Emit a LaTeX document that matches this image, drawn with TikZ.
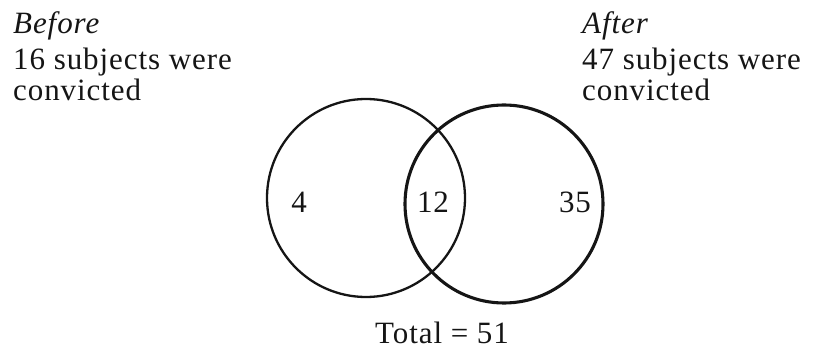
\documentclass[tikz,border=0pt]{standalone}
\usepackage{fontspec}
\setmainfont{Liberation Serif}[LetterSpace=3]
\newcommand{\vennsize}{\fontsize{31}{37}\selectfont}
\usetikzlibrary{positioning}
\definecolor{vnink}{HTML}{151515}
\tikzset{
  vennset/.style={draw=vnink,circle,line width=2.3pt,minimum size=198pt,inner sep=0pt},
  vennsetbold/.style={vennset,line width=3.1pt},
  venncount/.style={text=vnink,inner sep=0pt,font=\vennsize},
  venncaption/.style={text=vnink,inner sep=0pt,anchor=base west,font=\vennsize},
}

\begin{document}
\begin{tikzpicture}[x=1pt,y=1pt]
        \useasboundingbox (0,0) rectangle (815,354);
        \node[vennset] (before) at (366,156) {};
        \node[vennsetbold] (after) at (504,150) {};
        \foreach \n/\x/\t in {only/299/4,both/433/12,new/575/35}
          {\node[venncount] (\n) at (\x,152) {\t};}
        \node[venncount] (total) at (442,21) {Total = 51};
        % captions over the two sets
        \foreach \n/\y/\t in {1/320/\textit{Before},2/284/16 subjects were,3/253/convicted}
          {\node[venncaption] (b\n) at (13,\y) {\t};}
        \foreach \n/\y/\t in {1/320/\textit{After},2/284/47 subjects were,3/253/convicted}
          {\node[venncaption] (a\n) at (582,\y) {\t};}
      \end{tikzpicture}
\end{document}
